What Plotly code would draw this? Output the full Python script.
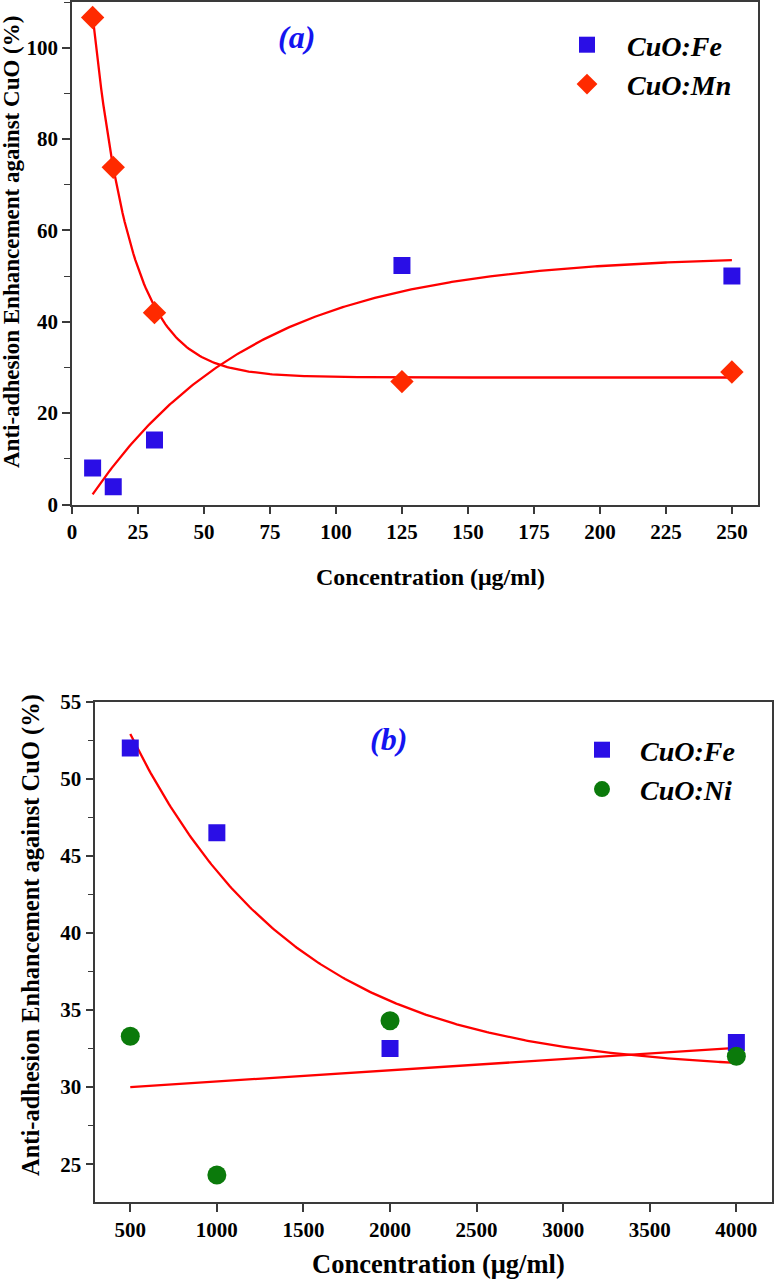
import numpy as np
import plotly.graph_objects as go

# ---------------- data ----------------
conc_a = [7.8125, 15.625, 31.25, 125, 250]
fe_a = [8.0, 3.9, 14.1, 52.3, 50.0]
mn_a = [106.6, 73.8, 42.0, 26.9, 29.0]

conc_b = [500, 1000, 2000, 4000]
fe_b = [52.0, 46.5, 32.5, 32.9]
ni_b = [33.3, 24.3, 34.3, 32.0]

# fitted-model parameters
fit_a_fe = {"plateau": 54.55, "amp": 59.37, "tau": 62.0}      # y = P - A*exp(-x/t)
fit_a_mn = {"offset": 27.8, "amp": 136.2, "tau": 14.4}        # y = y0 + A*exp(-x/t)
fit_b_fe = {"offset": 31.0, "amp": 36.87, "tau": 960.0}       # y = y0 + A*exp(-x/t)
fit_b_ni = {"intercept": 29.636, "slope": 0.000729}           # y = a + b*x

ticks_a_x = [0, 25, 50, 75, 100, 125, 150, 175, 200, 225, 250]
ticks_b_x = [500, 1000, 1500, 2000, 2500, 3000, 3500, 4000]

# ---------------- styling ----------------
FONT = "Liberation Serif, Times New Roman, serif"
BLUE = "#2a0ee6"
RED_M = "#ff2a00"
GREEN = "#0b7a0b"
FIT = "#ff0000"
AX = "#3a3a3a"
W, H = 774, 1281

xa = np.linspace(conc_a[0], conc_a[-1], 300)
xb = np.linspace(conc_b[0], conc_b[-1], 300)
ya_fe = fit_a_fe["plateau"] - fit_a_fe["amp"] * np.exp(-xa / fit_a_fe["tau"])
ya_mn = fit_a_mn["offset"] + fit_a_mn["amp"] * np.exp(-xa / fit_a_mn["tau"])
yb_fe = fit_b_fe["offset"] + fit_b_fe["amp"] * np.exp(-xb / fit_b_fe["tau"])
yb_ni = fit_b_ni["intercept"] + fit_b_ni["slope"] * xb

fig = go.Figure()

line = dict(color=FIT, width=2.3)
fig.add_trace(go.Scatter(x=xa, y=ya_fe, mode="lines", line=line, showlegend=False, xaxis="x", yaxis="y"))
fig.add_trace(go.Scatter(x=xa, y=ya_mn, mode="lines", line=line, showlegend=False, xaxis="x", yaxis="y"))
fig.add_trace(go.Scatter(x=conc_a, y=fe_a, mode="markers", name="CuO:Fe",
                         marker=dict(symbol="square", size=17, color=BLUE),
                         xaxis="x", yaxis="y", legend="legend"))
fig.add_trace(go.Scatter(x=conc_a, y=mn_a, mode="markers", name="CuO:Mn",
                         marker=dict(symbol="diamond", size=18, color=RED_M),
                         xaxis="x", yaxis="y", legend="legend"))

fig.add_trace(go.Scatter(x=xb, y=yb_fe, mode="lines", line=line, showlegend=False, xaxis="x2", yaxis="y2"))
fig.add_trace(go.Scatter(x=xb, y=yb_ni, mode="lines", line=line, showlegend=False, xaxis="x2", yaxis="y2"))
fig.add_trace(go.Scatter(x=conc_b, y=fe_b, mode="markers", name="CuO:Fe",
                         marker=dict(symbol="square", size=17, color=BLUE),
                         xaxis="x2", yaxis="y2", legend="legend2"))
fig.add_trace(go.Scatter(x=conc_b, y=ni_b, mode="markers", name="CuO:Ni",
                         marker=dict(symbol="circle", size=19, color=GREEN),
                         xaxis="x2", yaxis="y2", legend="legend2"))

tickfont = dict(family=FONT, size=21, color="black", weight="bold")
common = dict(showgrid=False, zeroline=False, showline=True, linecolor=AX, linewidth=1.5,
              mirror=True, ticks="outside", ticklen=8, tickwidth=1.5, tickcolor=AX,
              tickfont=tickfont, automargin=False)

legfont = dict(family=FONT, size=28, color="black", weight="bold", style="italic")

fig.update_layout(
    width=W, height=H,
    margin=dict(l=0, r=0, t=0, b=0, autoexpand=False),
    paper_bgcolor="white", plot_bgcolor="white",
    xaxis=dict(domain=[72 / W, 757.5 / W], range=[0, 259.7], tickvals=ticks_a_x, anchor="y", **common),
    yaxis=dict(domain=[1 - 504.5 / H, 1 - 2 / H], range=[0, 110], tick0=0, dtick=20, anchor="x",
               minor=dict(dtick=10, ticks="outside", ticklen=6, tickcolor=AX, tickwidth=1.2), **common),
    xaxis2=dict(domain=[95.3 / W, 771.7 / W], range=[298, 4204], tickvals=ticks_b_x, anchor="y2", **common),
    yaxis2=dict(domain=[1 - 1202.3 / H, 1 - 701.7 / H], range=[22.53, 55], tick0=0, dtick=5, anchor="x2",
                minor=dict(dtick=2.5, ticks="outside", ticklen=6, tickcolor=AX, tickwidth=1.2), **common),
    legend=dict(x=547 / W, y=1 - 20 / H, xanchor="left", yanchor="top", font=legfont,
                bgcolor="rgba(0,0,0,0)", itemwidth=70, tracegroupgap=0),
    legend2=dict(x=564 / W, y=1 - 725 / H, xanchor="left", yanchor="top", font=legfont,
                 bgcolor="rgba(0,0,0,0)", itemwidth=66, tracegroupgap=0),
)

xtitle_a = dict(family=FONT, size=24, color="black", weight="bold")
ytitle_a = dict(family=FONT, size=23, color="black", weight="bold")
xtitle_b = dict(family=FONT, size=26.5, color="black", weight="bold")
ytitle_b = dict(family=FONT, size=24.5, color="black", weight="bold")
ann = [
    dict(text="(a)", x=296 / W, y=1 - 37 / H, font=dict(family=FONT, size=32, color="#1414f0", weight="bold", style="italic")),
    dict(text="(b)", x=388 / W, y=1 - 739 / H, font=dict(family=FONT, size=32, color="#1414f0", weight="bold", style="italic")),
    dict(text="Concentration (μg/ml)", x=430 / W, y=1 - 577 / H, font=xtitle_a),
    dict(text="Concentration (μg/ml)", x=438 / W, y=1 - 1264 / H, font=xtitle_b),
    dict(text="Anti-adhesion Enhancement against CuO (%)", x=12 / W, y=1 - 242 / H, textangle=-90, font=ytitle_a),
    dict(text="Anti-adhesion Enhancement against CuO (%)", x=31 / W, y=1 - 935 / H, textangle=-90, font=ytitle_b),
]
for a in ann:
    fig.add_annotation(xref="paper", yref="paper", showarrow=False, xanchor="center", yanchor="middle", **a)

fig.write_html("out.html",
               config={"displayModeBar": False},
               post_script="document.body.style.margin='0';document.body.style.padding='0';"
                           "document.documentElement.style.overflow='hidden';")
